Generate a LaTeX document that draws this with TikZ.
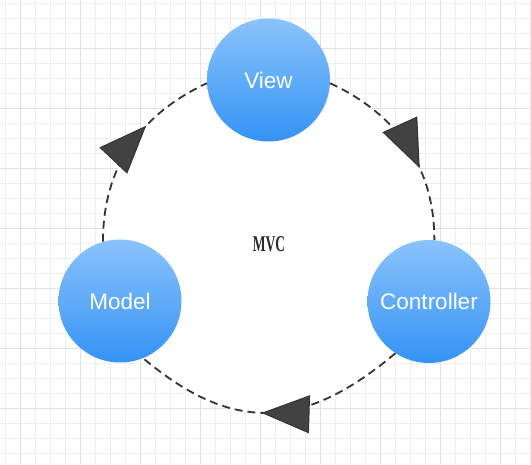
\documentclass[tikz,border=0pt]{standalone}
\usepackage{fontspec}
\usetikzlibrary{arrows.meta,decorations.markings,backgrounds}
\newfontfamily\labelfont{Liberation Sans}
\newfontfamily\mvcfont[FakeStretch=0.6]{Liberation Serif Bold}
\definecolor{BlueTop}{RGB}{139,195,251}
\definecolor{BlueBottom}{RGB}{52,147,245}
\definecolor{EdgeGray}{RGB}{51,51,51}
\definecolor{TipGray}{RGB}{66,66,66}
\definecolor{TitleGray}{RGB}{43,43,43}
\definecolor{GridMinor}{RGB}{238,238,238}
\definecolor{GridMajor}{RGB}{224,224,224}
\tikzset{
  VertexStyle/.style = { circle, minimum size = 123pt, inner sep = 0pt,
                        top color = BlueTop, bottom color = BlueBottom,
                        text = white, font = \labelfont\fontsize{22.5}{26}\selectfont },
  EdgeStyle/.style = { draw = EdgeGray, line width = 1.8pt,
                       dash pattern = on 8pt off 5pt },
  TipAt/.style = { postaction = {decorate}, decoration = {markings,
      mark = at position #1 with {\arrow{Triangle[length=48pt,width=38pt,line width=1pt,fill=TipGray]}}} },
  GridStyle/.style = { draw = GridMinor, line width = 0.7pt },
  MajorGridStyle/.style = { draw = GridMajor, line width = 0.8pt } }

\begin{document}
\begin{tikzpicture}[x=1pt,y=1pt]
  \useasboundingbox (0,0) rectangle (531,464);

  \node[VertexStyle] (view) at (268.5,384) {View};
  \node[VertexStyle] (model) at (120,163) {Model};
  \node[VertexStyle] (ctrl) at (429,162.5) {Controller};

  \node[font = \mvcfont\fontsize{22.6}{26}\selectfont, text = TitleGray] (mvc) at (269,220) {MVC};

  \draw[EdgeStyle, TipAt = 0.63] (model.106) to[out=90,in=205] (view.183);
  \draw[EdgeStyle, TipAt = 0.63] (view.-3) to[out=-25,in=90] (ctrl.85);
  \draw[EdgeStyle, TipAt = 0.53] (ctrl.237) to[out=220,in=-40,looseness=1.2] (model.-68);

  \begin{pgfonlayer}{background}
    \foreach \gx in {5,20,...,530} \draw[GridStyle] (\gx,0) -- (\gx,464);
    \foreach \gy in {11,26,...,461} \draw[GridStyle] (0,\gy) -- (531,\gy);
    \foreach \gx in {20,80,...,500} \draw[MajorGridStyle] (\gx,0) -- (\gx,464);
    \foreach \gy in {56,116,...,416} \draw[MajorGridStyle] (0,\gy) -- (531,\gy);

    \fill[white] (model.106) to[out=90,in=205] (view.183) -- (view.center)
      -- (view.-3) to[out=-25,in=90] (ctrl.85) -- (ctrl.center)
      -- (ctrl.237) to[out=220,in=-40,looseness=1.2] (model.-68) -- (model.center) -- cycle;
  \end{pgfonlayer}
\end{tikzpicture}
\end{document}
